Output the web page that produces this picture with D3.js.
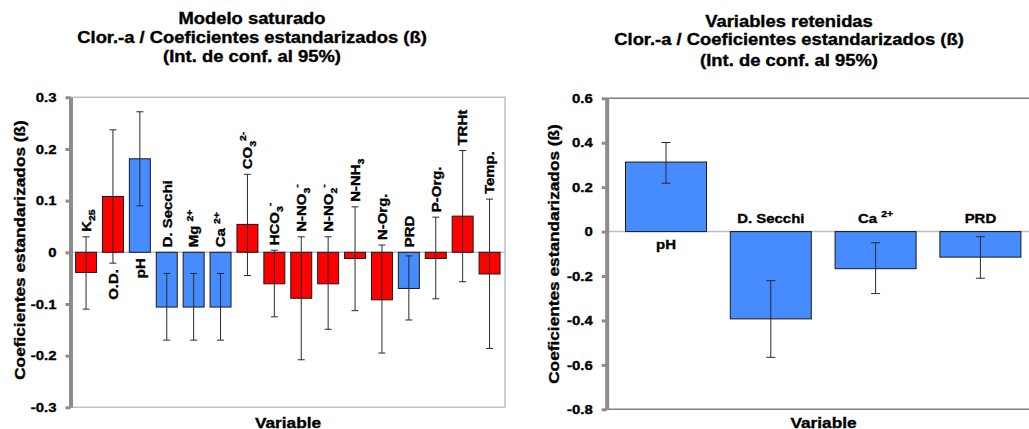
<!DOCTYPE html>
<html>
<head>
<meta charset="utf-8">
<title>Clor.-a / Coeficientes estandarizados</title>
<script src="https://d3js.org/d3.v7.min.js"></script>
<style>
  body { margin: 0; background: #fff; }
  svg text { font-family: "Liberation Sans", Arial, sans-serif; font-weight: bold; fill: #000;
             stroke: #000; stroke-width: 0.35px; }
</style>
</head>
<body>
<div id="chart"></div>
<script>
// ---- data ----
// left panel: saturated model
const leftTitle = ["Modelo saturado", "Clor.-a / Coeficientes estandarizados (ß)", "(Int. de conf. al 95%)"];
const leftVars = ["K_{25}", "O.D.", "pH", "D. Secchi", "Mg ^{2+}", "Ca ^{2+}", "CO_{3}^{2-}", "HCO_{3}^{-}",
                  "N-NO_{3}^{-}", "N-NO_{2}^{-}", "N-NH_{3}", "N-Org.", "PRD", "P-Org.", "TRHt", "Temp."];
const leftCoef = [-0.039, 0.108, 0.181, -0.106, -0.106, -0.106, 0.054, -0.061,
                  -0.089, -0.061, -0.012, -0.092, -0.070, -0.012, 0.070, -0.042];
const leftLow  = [-0.110, -0.021, 0.090, -0.170, -0.170, -0.170, -0.045, -0.125,
                  -0.208, -0.149, -0.113, -0.195, -0.131, -0.090, -0.057, -0.186];
const leftHigh = [0.030, 0.237, 0.272, -0.041, -0.041, -0.041, 0.151, 0.004,
                  0.030, 0.030, 0.088, 0.014, -0.007, 0.068, 0.197, 0.103];
const leftRetained = ["pH", "D. Secchi", "Mg ^{2+}", "Ca ^{2+}", "PRD"];
const leftTicks = [-0.3, -0.2, -0.1, 0, 0.1, 0.2, 0.3];
const leftTickLabels = ["-0.3", "-0.2", "-0.1", "0", "0.1", "0.2", "0.3"];

// right panel: retained variables
const rightTitle = ["Variables retenidas", "Clor.-a / Coeficientes estandarizados (ß)", "(Int. de conf. al 95%)"];
const rightVars = ["pH", "D. Secchi", "Ca ^{2+}", "PRD"];
const rightCoef = [0.313, -0.393, -0.167, -0.115];
const rightLow  = [0.218, -0.566, -0.279, -0.210];
const rightHigh = [0.401, -0.221, -0.050, -0.023];
const rightTicks = [-0.8, -0.6, -0.4, -0.2, 0, 0.2, 0.4, 0.6];
const rightTickLabels = ["-0.8", "-0.6", "-0.4", "-0.2", "0", "0.2", "0.4", "0.6"];

const yTitle = "Coeficientes estandarizados (ß)";
const xTitle = "Variable";

// ---- look ----
const RED = "#ff0000", BLUE = "#468cff";
const STRETCH = 1.15;   // the original's bold text is wide

const svg = d3.select("#chart").append("svg")
  .attr("width", 1029)
  .attr("height", 429);

// text helper: bold, slightly wide, optional rotation, sub/superscripts via _{..} ^{..}
function label(g, str, x, y, size, anchor, rot) {
  const t = g.append("text")
    .attr("transform", `translate(${x},${y}) rotate(${rot || 0}) scale(${STRETCH},1)`)
    .attr("text-anchor", anchor)
    .style("font-size", size + "px");
  const bits = str.split(/([_^]\{[^}]*\})/).filter(s => s.length);
  let shift = 0;
  bits.forEach(b => {
    let txt = b, off = 0, fs = size;
    if (b[0] === "_") { txt = b.slice(2, -1); off = size * 0.28; fs = size * 0.7; }
    else if (b[0] === "^") { txt = b.slice(2, -1); off = -size * 0.45; fs = size * 0.7; }
    t.append("tspan")
      .attr("dy", off - shift)
      .style("font-size", fs + "px")
      .text(txt);
    shift = off;
  });
  return t;
}

function yAxis(g, y, x0, ticks, labels) {
  const ax = g.append("g")
    .attr("transform", `translate(${x0},0)`)
    .call(d3.axisLeft(y).tickValues(ticks).tickSize(5).tickSizeOuter(0)
      .tickFormat((d, i) => labels[i]).tickPadding(9));
  ax.select(".domain").attr("stroke", "#8c8c8c").attr("stroke-width", 4);
  ax.selectAll(".tick line").attr("stroke", "#8c8c8c").attr("stroke-width", 3);
  ax.selectAll(".tick text")
    .attr("x", -14 / STRETCH)
    .attr("transform", `scale(${STRETCH},1)`)
    .style("font-size", "13px")
    .style("font-family", "'Liberation Sans', Arial, sans-serif")
    .style("font-weight", "bold");
}

function errorBars(g, x, y, vars, low, high, cap) {
  const eb = g.append("g").attr("stroke", "#2a2a2a").attr("stroke-width", 1);
  vars.forEach((v, i) => {
    const cx = x(v) + x.bandwidth() / 2;
    eb.append("line").attr("x1", cx).attr("x2", cx).attr("y1", y(high[i])).attr("y2", y(low[i]));
    eb.append("line").attr("x1", cx - cap).attr("x2", cx + cap).attr("y1", y(high[i])).attr("y2", y(high[i]));
    eb.append("line").attr("x1", cx - cap).attr("x2", cx + cap).attr("y1", y(low[i])).attr("y2", y(low[i]));
  });
}

// ================= left panel =================
const gl = svg.append("g");
const yl = d3.scaleLinear().domain([-0.3, 0.3]).range([407.3, 97.3]);
const xl = d3.scaleBand().domain(leftVars).range([72.6, 503]).paddingInner(0.22).paddingOuter(0.11);

leftTitle.forEach((s, i) => label(gl, s, 252, [24, 42.5, 62][i], 16, "middle"));

// plot frame + zero line
gl.append("rect").attr("x", 70).attr("y", yl(0.3)).attr("width", 435).attr("height", yl(-0.3) - yl(0.3))
  .attr("fill", "none").attr("stroke", "#bfbfbf").attr("stroke-width", 1.5);
gl.append("line").attr("x1", 70).attr("x2", 505).attr("y1", yl(0)).attr("y2", yl(0))
  .attr("stroke", "#bfbfbf").attr("stroke-width", 1.5);

gl.selectAll("rect.bar")
  .data(leftVars)
  .join("rect")
    .attr("class", "bar")
    .attr("x", d => xl(d))
    .attr("width", xl.bandwidth())
    .attr("y", (d, i) => yl(Math.max(0, leftCoef[i])))
    .attr("height", (d, i) => Math.abs(yl(leftCoef[i]) - yl(0)))
    .attr("fill", d => leftRetained.includes(d) ? BLUE : RED)
    .attr("stroke", "#1a1a1a")
    .attr("stroke-width", 1);

errorBars(gl, xl, yl, leftVars, leftLow, leftHigh, 3.5);

// rotated category labels: above the whisker, or under it when the whisker runs too high
leftVars.forEach((v, i) => {
  const cx = xl(v) + xl.bandwidth() / 2 + 4.8;
  if (leftHigh[i] > 0.22) {
    label(gl, v, cx, yl(Math.min(0, leftLow[i])) + 6, 13, "end", -90);
  } else {
    label(gl, v, cx, yl(Math.max(0, leftHigh[i])) - 5, 13, "start", -90);
  }
});

yAxis(gl, yl, 70.5, leftTicks, leftTickLabels);
label(gl, yTitle, 25, 250, 15, "middle", -90);
label(gl, xTitle, 288, 427.5, 15, "middle");

// ================= right panel =================
const gr = svg.append("g");
const yr = d3.scaleLinear().domain([-0.8, 0.6]).range([409.3, 98.3]);
const xr = d3.scaleBand().domain(rightVars).range([613.6, 1032.8]).paddingInner(0.227).paddingOuter(0.1135);

rightTitle.forEach((s, i) => label(gr, s, 789, [26.7, 45, 65.5][i], 16, "middle"));

gr.append("line").attr("x1", 606).attr("x2", 1040).attr("y1", yr(0.6)).attr("y2", yr(0.6))
  .attr("stroke", "#7f7f7f").attr("stroke-width", 1.5);
gr.append("line").attr("x1", 606).attr("x2", 1040).attr("y1", yr(-0.8)).attr("y2", yr(-0.8))
  .attr("stroke", "#7f7f7f").attr("stroke-width", 1.5);
gr.append("line").attr("x1", 606).attr("x2", 1040).attr("y1", yr(0)).attr("y2", yr(0))
  .attr("stroke", "#bfbfbf").attr("stroke-width", 1.5);

gr.selectAll("rect.bar")
  .data(rightVars)
  .join("rect")
    .attr("class", "bar")
    .attr("x", d => xr(d))
    .attr("width", xr.bandwidth())
    .attr("y", (d, i) => yr(Math.max(0, rightCoef[i])))
    .attr("height", (d, i) => Math.abs(yr(rightCoef[i]) - yr(0)))
    .attr("fill", BLUE)
    .attr("stroke", "#1a1a1a")
    .attr("stroke-width", 1);

errorBars(gr, xr, yr, rightVars, rightLow, rightHigh, 4.5);

// labels sit on the other side of zero from the bar
rightVars.forEach((v, i) => {
  const cx = xr(v) + xr.bandwidth() / 2;
  const yy = rightCoef[i] > 0 ? yr(0) + 17 : yr(0) - 8.5;
  label(gr, v, cx, yy, 13, "middle");
});

yAxis(gr, yr, 606.7, rightTicks, rightTickLabels);
label(gr, yTitle, 559, 254, 15, "middle", -90);
label(gr, xTitle, 823.5, 427.5, 15, "middle");
</script>
</body>
</html>
